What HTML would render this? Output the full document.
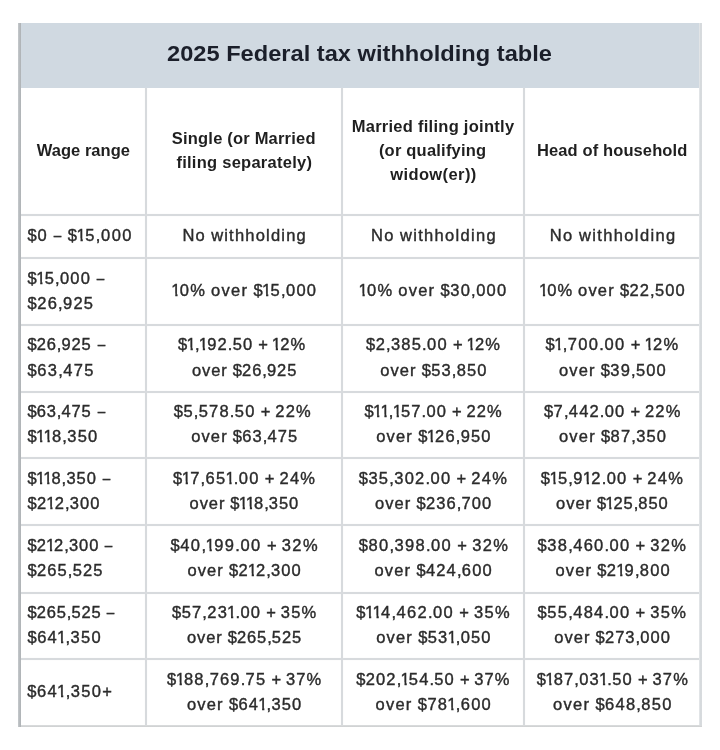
<!DOCTYPE html>
<html><head><meta charset="utf-8"><style>
html,body{margin:0;padding:0;background:#fff;width:720px;height:750px;overflow:hidden;position:relative;font-family:"Liberation Sans",sans-serif;}
.a{position:absolute;}
.t{position:absolute;white-space:pre;line-height:30px;height:30px;}
.d{font-size:16.5px;color:#2b2b2b;-webkit-text-stroke:0.4px #2b2b2b;}
.h{font-size:16.5px;font-weight:bold;color:#1f1f1f;}
.ti{font-size:23px;font-weight:bold;color:#1b1f2a;}
</style></head><body><div style="position:absolute;left:0;top:0;width:720px;height:750px;background:#fff;will-change:transform">
<div class="a" style="left:18px;top:23px;width:683px;height:64.5px;background:#d0d9e1"></div>
<div class="t d" style="left:27.50px;top:220px"><span style="letter-spacing:0.713px">$</span><span style="letter-spacing:1.443px">0</span><span style="letter-spacing:0.823px"> </span><span style="letter-spacing:-0.387px"><span style="display:inline-block;transform:scaleX(0.82)">–</span></span><span style="letter-spacing:0.823px"> </span><span style="letter-spacing:0.713px">$</span><span style="margin-left:-0.985px;letter-spacing:-0.512px;display:inline-block;clip-path:polygon(0.5px 0,6.2px 0,6.2px 100%,4.0px 100%,4.0px 18.4px,0.5px 18.4px)">1</span><span style="letter-spacing:1.443px">5</span><span style="letter-spacing:0.643px">,</span><span style="letter-spacing:1.443px">00</span>0</div>
<div class="t d" style="left:182.50px;top:220px"><span style="letter-spacing:1.200px">No</span><span style="letter-spacing:0.550px"> </span><span style="letter-spacing:1.200px">withholdin</span>g</div>
<div class="t d" style="left:371.00px;top:220px"><span style="letter-spacing:1.308px">No</span><span style="letter-spacing:0.658px"> </span><span style="letter-spacing:1.308px">withholdin</span>g</div>
<div class="t d" style="left:549.80px;top:220px"><span style="letter-spacing:1.369px">No</span><span style="letter-spacing:0.719px"> </span><span style="letter-spacing:1.369px">withholdin</span>g</div>
<div class="t d" style="left:27.60px;top:263px"><span style="letter-spacing:0.440px">$</span><span style="margin-left:-0.985px;letter-spacing:-0.785px;display:inline-block;clip-path:polygon(0.5px 0,6.2px 0,6.2px 100%,4.0px 100%,4.0px 18.4px,0.5px 18.4px)">1</span><span style="letter-spacing:1.170px">5</span><span style="letter-spacing:0.370px">,</span><span style="letter-spacing:1.170px">000</span><span style="letter-spacing:0.550px"> </span><span style="display:inline-block;transform:scaleX(0.82)">–</span></div>
<div class="t d" style="left:27.60px;top:288px"><span style="letter-spacing:0.473px">$</span><span style="letter-spacing:1.203px">26</span><span style="letter-spacing:0.403px">,</span><span style="letter-spacing:1.203px">92</span>5</div>
<div class="t d" style="left:172.30px;top:275px"><span style="margin-left:-0.985px;letter-spacing:-0.718px;display:inline-block;clip-path:polygon(0.5px 0,6.2px 0,6.2px 100%,4.0px 100%,4.0px 18.4px,0.5px 18.4px)">1</span><span style="letter-spacing:1.237px">0</span><span style="letter-spacing:0.917px">%</span><span style="letter-spacing:0.617px"> </span><span style="letter-spacing:1.267px">over</span><span style="letter-spacing:0.617px"> </span><span style="letter-spacing:0.507px">$</span><span style="margin-left:-0.985px;letter-spacing:-0.718px;display:inline-block;clip-path:polygon(0.5px 0,6.2px 0,6.2px 100%,4.0px 100%,4.0px 18.4px,0.5px 18.4px)">1</span><span style="letter-spacing:1.237px">5</span><span style="letter-spacing:0.437px">,</span><span style="letter-spacing:1.237px">00</span>0</div>
<div class="t d" style="left:359.50px;top:275px"><span style="margin-left:-0.985px;letter-spacing:-0.718px;display:inline-block;clip-path:polygon(0.5px 0,6.2px 0,6.2px 100%,4.0px 100%,4.0px 18.4px,0.5px 18.4px)">1</span><span style="letter-spacing:1.237px">0</span><span style="letter-spacing:0.917px">%</span><span style="letter-spacing:0.617px"> </span><span style="letter-spacing:1.267px">over</span><span style="letter-spacing:0.617px"> </span><span style="letter-spacing:0.507px">$</span><span style="letter-spacing:1.237px">30</span><span style="letter-spacing:0.437px">,</span><span style="letter-spacing:1.237px">00</span>0</div>
<div class="t d" style="left:539.90px;top:275px"><span style="margin-left:-0.985px;letter-spacing:-0.838px;display:inline-block;clip-path:polygon(0.5px 0,6.2px 0,6.2px 100%,4.0px 100%,4.0px 18.4px,0.5px 18.4px)">1</span><span style="letter-spacing:1.117px">0</span><span style="letter-spacing:0.797px">%</span><span style="letter-spacing:0.497px"> </span><span style="letter-spacing:1.147px">over</span><span style="letter-spacing:0.497px"> </span><span style="letter-spacing:0.387px">$</span><span style="letter-spacing:1.117px">22</span><span style="letter-spacing:0.317px">,</span><span style="letter-spacing:1.117px">50</span>0</div>
<div class="t d" style="left:27.45px;top:329px"><span style="letter-spacing:0.140px">$</span><span style="letter-spacing:0.870px">26</span><span style="letter-spacing:0.070px">,</span><span style="letter-spacing:0.870px">925</span><span style="letter-spacing:0.250px"> </span><span style="display:inline-block;transform:scaleX(0.82)">–</span></div>
<div class="t d" style="left:27.45px;top:355px"><span style="letter-spacing:0.573px">$</span><span style="letter-spacing:1.303px">63</span><span style="letter-spacing:0.503px">,</span><span style="letter-spacing:1.303px">47</span>5</div>
<div class="t d" style="left:178.00px;top:329px"><span style="letter-spacing:0.383px">$</span><span style="margin-left:-0.985px;letter-spacing:-0.842px;display:inline-block;clip-path:polygon(0.5px 0,6.2px 0,6.2px 100%,4.0px 100%,4.0px 18.4px,0.5px 18.4px)">1</span><span style="letter-spacing:0.313px">,</span><span style="margin-left:-0.985px;letter-spacing:-0.842px;display:inline-block;clip-path:polygon(0.5px 0,6.2px 0,6.2px 100%,4.0px 100%,4.0px 18.4px,0.5px 18.4px)">1</span><span style="letter-spacing:1.113px">92</span><span style="letter-spacing:0.313px">.</span><span style="letter-spacing:1.113px">50</span><span style="letter-spacing:0.493px"> </span><span style="letter-spacing:-0.287px">+</span><span style="letter-spacing:0.493px"> </span><span style="margin-left:-0.985px;letter-spacing:-0.842px;display:inline-block;clip-path:polygon(0.5px 0,6.2px 0,6.2px 100%,4.0px 100%,4.0px 18.4px,0.5px 18.4px)">1</span><span style="letter-spacing:1.113px">2</span>%</div>
<div class="t d" style="left:191.90px;top:355px"><span style="letter-spacing:0.945px">over</span><span style="letter-spacing:0.295px"> </span><span style="letter-spacing:0.185px">$</span><span style="letter-spacing:0.915px">26</span><span style="letter-spacing:0.115px">,</span><span style="letter-spacing:0.915px">92</span>5</div>
<div class="t d" style="left:366.00px;top:329px"><span style="letter-spacing:0.454px">$</span><span style="letter-spacing:1.184px">2</span><span style="letter-spacing:0.384px">,</span><span style="letter-spacing:1.184px">385</span><span style="letter-spacing:0.384px">.</span><span style="letter-spacing:1.184px">00</span><span style="letter-spacing:0.564px"> </span><span style="letter-spacing:-0.216px">+</span><span style="letter-spacing:0.564px"> </span><span style="margin-left:-0.985px;letter-spacing:-0.771px;display:inline-block;clip-path:polygon(0.5px 0,6.2px 0,6.2px 100%,4.0px 100%,4.0px 18.4px,0.5px 18.4px)">1</span><span style="letter-spacing:1.184px">2</span>%</div>
<div class="t d" style="left:380.20px;top:355px"><span style="letter-spacing:1.109px">over</span><span style="letter-spacing:0.459px"> </span><span style="letter-spacing:0.349px">$</span><span style="letter-spacing:1.079px">53</span><span style="letter-spacing:0.279px">,</span><span style="letter-spacing:1.079px">85</span>0</div>
<div class="t d" style="left:545.40px;top:329px"><span style="letter-spacing:0.583px">$</span><span style="margin-left:-0.985px;letter-spacing:-0.642px;display:inline-block;clip-path:polygon(0.5px 0,6.2px 0,6.2px 100%,4.0px 100%,4.0px 18.4px,0.5px 18.4px)">1</span><span style="letter-spacing:0.513px">,</span><span style="letter-spacing:1.313px">700</span><span style="letter-spacing:0.513px">.</span><span style="letter-spacing:1.313px">00</span><span style="letter-spacing:0.693px"> </span><span style="letter-spacing:-0.087px">+</span><span style="letter-spacing:0.693px"> </span><span style="margin-left:-0.985px;letter-spacing:-0.642px;display:inline-block;clip-path:polygon(0.5px 0,6.2px 0,6.2px 100%,4.0px 100%,4.0px 18.4px,0.5px 18.4px)">1</span><span style="letter-spacing:1.313px">2</span>%</div>
<div class="t d" style="left:558.90px;top:355px"><span style="letter-spacing:1.164px">over</span><span style="letter-spacing:0.514px"> </span><span style="letter-spacing:0.404px">$</span><span style="letter-spacing:1.134px">39</span><span style="letter-spacing:0.334px">,</span><span style="letter-spacing:1.134px">50</span>0</div>
<div class="t d" style="left:27.45px;top:396px"><span style="letter-spacing:0.140px">$</span><span style="letter-spacing:0.870px">63</span><span style="letter-spacing:0.070px">,</span><span style="letter-spacing:0.870px">475</span><span style="letter-spacing:0.250px"> </span><span style="display:inline-block;transform:scaleX(0.82)">–</span></div>
<div class="t d" style="left:27.45px;top:421px"><span style="letter-spacing:0.469px">$</span><span style="margin-left:-0.985px;letter-spacing:-0.756px;display:inline-block;clip-path:polygon(0.5px 0,6.2px 0,6.2px 100%,4.0px 100%,4.0px 18.4px,0.5px 18.4px)">1</span><span style="margin-left:-0.985px;letter-spacing:-0.756px;display:inline-block;clip-path:polygon(0.5px 0,6.2px 0,6.2px 100%,4.0px 100%,4.0px 18.4px,0.5px 18.4px)">1</span><span style="letter-spacing:1.199px">8</span><span style="letter-spacing:0.399px">,</span><span style="letter-spacing:1.199px">35</span>0</div>
<div class="t d" style="left:173.75px;top:396px"><span style="letter-spacing:0.454px">$</span><span style="letter-spacing:1.184px">5</span><span style="letter-spacing:0.384px">,</span><span style="letter-spacing:1.184px">578</span><span style="letter-spacing:0.384px">.</span><span style="letter-spacing:1.184px">50</span><span style="letter-spacing:0.564px"> </span><span style="letter-spacing:-0.216px">+</span><span style="letter-spacing:0.564px"> </span><span style="letter-spacing:1.184px">22</span>%</div>
<div class="t d" style="left:191.25px;top:421px"><span style="letter-spacing:1.091px">over</span><span style="letter-spacing:0.441px"> </span><span style="letter-spacing:0.331px">$</span><span style="letter-spacing:1.061px">63</span><span style="letter-spacing:0.261px">,</span><span style="letter-spacing:1.061px">47</span>5</div>
<div class="t d" style="left:364.50px;top:396px"><span style="letter-spacing:0.373px">$</span><span style="margin-left:-0.985px;letter-spacing:-0.852px;display:inline-block;clip-path:polygon(0.5px 0,6.2px 0,6.2px 100%,4.0px 100%,4.0px 18.4px,0.5px 18.4px)">1</span><span style="margin-left:-0.985px;letter-spacing:-0.852px;display:inline-block;clip-path:polygon(0.5px 0,6.2px 0,6.2px 100%,4.0px 100%,4.0px 18.4px,0.5px 18.4px)">1</span><span style="letter-spacing:0.303px">,</span><span style="margin-left:-0.985px;letter-spacing:-0.852px;display:inline-block;clip-path:polygon(0.5px 0,6.2px 0,6.2px 100%,4.0px 100%,4.0px 18.4px,0.5px 18.4px)">1</span><span style="letter-spacing:1.103px">57</span><span style="letter-spacing:0.303px">.</span><span style="letter-spacing:1.103px">00</span><span style="letter-spacing:0.483px"> </span><span style="letter-spacing:-0.297px">+</span><span style="letter-spacing:0.483px"> </span><span style="letter-spacing:1.103px">22</span>%</div>
<div class="t d" style="left:376.25px;top:421px"><span style="letter-spacing:1.167px">over</span><span style="letter-spacing:0.517px"> </span><span style="letter-spacing:0.407px">$</span><span style="margin-left:-0.985px;letter-spacing:-0.818px;display:inline-block;clip-path:polygon(0.5px 0,6.2px 0,6.2px 100%,4.0px 100%,4.0px 18.4px,0.5px 18.4px)">1</span><span style="letter-spacing:1.137px">26</span><span style="letter-spacing:0.337px">,</span><span style="letter-spacing:1.137px">95</span>0</div>
<div class="t d" style="left:544.00px;top:396px"><span style="letter-spacing:0.411px">$</span><span style="letter-spacing:1.141px">7</span><span style="letter-spacing:0.341px">,</span><span style="letter-spacing:1.141px">442</span><span style="letter-spacing:0.341px">.</span><span style="letter-spacing:1.141px">00</span><span style="letter-spacing:0.521px"> </span><span style="letter-spacing:-0.259px">+</span><span style="letter-spacing:0.521px"> </span><span style="letter-spacing:1.141px">22</span>%</div>
<div class="t d" style="left:559.00px;top:421px"><span style="letter-spacing:1.182px">over</span><span style="letter-spacing:0.532px"> </span><span style="letter-spacing:0.422px">$</span><span style="letter-spacing:1.152px">87</span><span style="letter-spacing:0.352px">,</span><span style="letter-spacing:1.152px">35</span>0</div>
<div class="t d" style="left:27.50px;top:463px"><span style="letter-spacing:0.262px">$</span><span style="margin-left:-0.985px;letter-spacing:-0.963px;display:inline-block;clip-path:polygon(0.5px 0,6.2px 0,6.2px 100%,4.0px 100%,4.0px 18.4px,0.5px 18.4px)">1</span><span style="margin-left:-0.985px;letter-spacing:-0.963px;display:inline-block;clip-path:polygon(0.5px 0,6.2px 0,6.2px 100%,4.0px 100%,4.0px 18.4px,0.5px 18.4px)">1</span><span style="letter-spacing:0.992px">8</span><span style="letter-spacing:0.192px">,</span><span style="letter-spacing:0.992px">350</span><span style="letter-spacing:0.372px"> </span><span style="display:inline-block;transform:scaleX(0.82)">–</span></div>
<div class="t d" style="left:27.50px;top:488px"><span style="letter-spacing:0.354px">$</span><span style="letter-spacing:1.084px">2</span><span style="margin-left:-0.985px;letter-spacing:-0.871px;display:inline-block;clip-path:polygon(0.5px 0,6.2px 0,6.2px 100%,4.0px 100%,4.0px 18.4px,0.5px 18.4px)">1</span><span style="letter-spacing:1.084px">2</span><span style="letter-spacing:0.284px">,</span><span style="letter-spacing:1.084px">30</span>0</div>
<div class="t d" style="left:173.00px;top:463px"><span style="letter-spacing:0.493px">$</span><span style="margin-left:-0.985px;letter-spacing:-0.732px;display:inline-block;clip-path:polygon(0.5px 0,6.2px 0,6.2px 100%,4.0px 100%,4.0px 18.4px,0.5px 18.4px)">1</span><span style="letter-spacing:1.223px">7</span><span style="letter-spacing:0.423px">,</span><span style="letter-spacing:1.223px">65</span><span style="margin-left:-0.985px;letter-spacing:-0.732px;display:inline-block;clip-path:polygon(0.5px 0,6.2px 0,6.2px 100%,4.0px 100%,4.0px 18.4px,0.5px 18.4px)">1</span><span style="letter-spacing:0.423px">.</span><span style="letter-spacing:1.223px">00</span><span style="letter-spacing:0.603px"> </span><span style="letter-spacing:-0.177px">+</span><span style="letter-spacing:0.603px"> </span><span style="letter-spacing:1.223px">24</span>%</div>
<div class="t d" style="left:189.50px;top:488px"><span style="letter-spacing:0.950px">over</span><span style="letter-spacing:0.300px"> </span><span style="letter-spacing:0.190px">$</span><span style="margin-left:-0.985px;letter-spacing:-1.035px;display:inline-block;clip-path:polygon(0.5px 0,6.2px 0,6.2px 100%,4.0px 100%,4.0px 18.4px,0.5px 18.4px)">1</span><span style="margin-left:-0.985px;letter-spacing:-1.035px;display:inline-block;clip-path:polygon(0.5px 0,6.2px 0,6.2px 100%,4.0px 100%,4.0px 18.4px,0.5px 18.4px)">1</span><span style="letter-spacing:0.920px">8</span><span style="letter-spacing:0.120px">,</span><span style="letter-spacing:0.920px">35</span>0</div>
<div class="t d" style="left:358.75px;top:463px"><span style="letter-spacing:0.507px">$</span><span style="letter-spacing:1.237px">35</span><span style="letter-spacing:0.437px">,</span><span style="letter-spacing:1.237px">302</span><span style="letter-spacing:0.437px">.</span><span style="letter-spacing:1.237px">00</span><span style="letter-spacing:0.617px"> </span><span style="letter-spacing:-0.163px">+</span><span style="letter-spacing:0.617px"> </span><span style="letter-spacing:1.237px">24</span>%</div>
<div class="t d" style="left:375.00px;top:488px"><span style="letter-spacing:1.083px">over</span><span style="letter-spacing:0.433px"> </span><span style="letter-spacing:0.323px">$</span><span style="letter-spacing:1.053px">236</span><span style="letter-spacing:0.253px">,</span><span style="letter-spacing:1.053px">70</span>0</div>
<div class="t d" style="left:540.80px;top:463px"><span style="letter-spacing:0.493px">$</span><span style="margin-left:-0.985px;letter-spacing:-0.732px;display:inline-block;clip-path:polygon(0.5px 0,6.2px 0,6.2px 100%,4.0px 100%,4.0px 18.4px,0.5px 18.4px)">1</span><span style="letter-spacing:1.223px">5</span><span style="letter-spacing:0.423px">,</span><span style="letter-spacing:1.223px">9</span><span style="margin-left:-0.985px;letter-spacing:-0.732px;display:inline-block;clip-path:polygon(0.5px 0,6.2px 0,6.2px 100%,4.0px 100%,4.0px 18.4px,0.5px 18.4px)">1</span><span style="letter-spacing:1.223px">2</span><span style="letter-spacing:0.423px">.</span><span style="letter-spacing:1.223px">00</span><span style="letter-spacing:0.603px"> </span><span style="letter-spacing:-0.177px">+</span><span style="letter-spacing:0.603px"> </span><span style="letter-spacing:1.223px">24</span>%</div>
<div class="t d" style="left:556.10px;top:488px"><span style="letter-spacing:0.950px">over</span><span style="letter-spacing:0.300px"> </span><span style="letter-spacing:0.190px">$</span><span style="margin-left:-0.985px;letter-spacing:-1.035px;display:inline-block;clip-path:polygon(0.5px 0,6.2px 0,6.2px 100%,4.0px 100%,4.0px 18.4px,0.5px 18.4px)">1</span><span style="letter-spacing:0.920px">25</span><span style="letter-spacing:0.120px">,</span><span style="letter-spacing:0.920px">85</span>0</div>
<div class="t d" style="left:27.45px;top:530px"><span style="letter-spacing:0.196px">$</span><span style="letter-spacing:0.926px">2</span><span style="margin-left:-0.985px;letter-spacing:-1.029px;display:inline-block;clip-path:polygon(0.5px 0,6.2px 0,6.2px 100%,4.0px 100%,4.0px 18.4px,0.5px 18.4px)">1</span><span style="letter-spacing:0.926px">2</span><span style="letter-spacing:0.126px">,</span><span style="letter-spacing:0.926px">300</span><span style="letter-spacing:0.306px"> </span><span style="display:inline-block;transform:scaleX(0.82)">–</span></div>
<div class="t d" style="left:27.45px;top:555px"><span style="letter-spacing:0.354px">$</span><span style="letter-spacing:1.084px">265</span><span style="letter-spacing:0.284px">,</span><span style="letter-spacing:1.084px">52</span>5</div>
<div class="t d" style="left:170.50px;top:530px"><span style="letter-spacing:0.640px">$</span><span style="letter-spacing:1.370px">40</span><span style="letter-spacing:0.570px">,</span><span style="margin-left:-0.985px;letter-spacing:-0.585px;display:inline-block;clip-path:polygon(0.5px 0,6.2px 0,6.2px 100%,4.0px 100%,4.0px 18.4px,0.5px 18.4px)">1</span><span style="letter-spacing:1.370px">99</span><span style="letter-spacing:0.570px">.</span><span style="letter-spacing:1.370px">00</span><span style="letter-spacing:0.750px"> </span><span style="letter-spacing:-0.030px">+</span><span style="letter-spacing:0.750px"> </span><span style="letter-spacing:1.370px">32</span>%</div>
<div class="t d" style="left:187.50px;top:555px"><span style="letter-spacing:1.083px">over</span><span style="letter-spacing:0.433px"> </span><span style="letter-spacing:0.323px">$</span><span style="letter-spacing:1.053px">2</span><span style="margin-left:-0.985px;letter-spacing:-0.902px;display:inline-block;clip-path:polygon(0.5px 0,6.2px 0,6.2px 100%,4.0px 100%,4.0px 18.4px,0.5px 18.4px)">1</span><span style="letter-spacing:1.053px">2</span><span style="letter-spacing:0.253px">,</span><span style="letter-spacing:1.053px">30</span>0</div>
<div class="t d" style="left:358.75px;top:530px"><span style="letter-spacing:0.573px">$</span><span style="letter-spacing:1.303px">80</span><span style="letter-spacing:0.503px">,</span><span style="letter-spacing:1.303px">398</span><span style="letter-spacing:0.503px">.</span><span style="letter-spacing:1.303px">00</span><span style="letter-spacing:0.683px"> </span><span style="letter-spacing:-0.097px">+</span><span style="letter-spacing:0.683px"> </span><span style="letter-spacing:1.303px">32</span>%</div>
<div class="t d" style="left:374.50px;top:555px"><span style="letter-spacing:1.167px">over</span><span style="letter-spacing:0.517px"> </span><span style="letter-spacing:0.407px">$</span><span style="letter-spacing:1.137px">424</span><span style="letter-spacing:0.337px">,</span><span style="letter-spacing:1.137px">60</span>0</div>
<div class="t d" style="left:537.60px;top:530px"><span style="letter-spacing:0.520px">$</span><span style="letter-spacing:1.250px">38</span><span style="letter-spacing:0.450px">,</span><span style="letter-spacing:1.250px">460</span><span style="letter-spacing:0.450px">.</span><span style="letter-spacing:1.250px">00</span><span style="letter-spacing:0.630px"> </span><span style="letter-spacing:-0.150px">+</span><span style="letter-spacing:0.630px"> </span><span style="letter-spacing:1.250px">32</span>%</div>
<div class="t d" style="left:555.40px;top:555px"><span style="letter-spacing:1.167px">over</span><span style="letter-spacing:0.517px"> </span><span style="letter-spacing:0.407px">$</span><span style="letter-spacing:1.137px">2</span><span style="margin-left:-0.985px;letter-spacing:-0.818px;display:inline-block;clip-path:polygon(0.5px 0,6.2px 0,6.2px 100%,4.0px 100%,4.0px 18.4px,0.5px 18.4px)">1</span><span style="letter-spacing:1.137px">9</span><span style="letter-spacing:0.337px">,</span><span style="letter-spacing:1.137px">80</span>0</div>
<div class="t d" style="left:27.45px;top:597px"><span style="letter-spacing:0.107px">$</span><span style="letter-spacing:0.837px">265</span><span style="letter-spacing:0.037px">,</span><span style="letter-spacing:0.837px">525</span><span style="letter-spacing:0.217px"> </span><span style="display:inline-block;transform:scaleX(0.82)">–</span></div>
<div class="t d" style="left:27.45px;top:622px"><span style="letter-spacing:0.526px">$</span><span style="letter-spacing:1.256px">64</span><span style="margin-left:-0.985px;letter-spacing:-0.699px;display:inline-block;clip-path:polygon(0.5px 0,6.2px 0,6.2px 100%,4.0px 100%,4.0px 18.4px,0.5px 18.4px)">1</span><span style="letter-spacing:0.456px">,</span><span style="letter-spacing:1.256px">35</span>0</div>
<div class="t d" style="left:172.00px;top:597px"><span style="letter-spacing:0.440px">$</span><span style="letter-spacing:1.170px">57</span><span style="letter-spacing:0.370px">,</span><span style="letter-spacing:1.170px">23</span><span style="margin-left:-0.985px;letter-spacing:-0.785px;display:inline-block;clip-path:polygon(0.5px 0,6.2px 0,6.2px 100%,4.0px 100%,4.0px 18.4px,0.5px 18.4px)">1</span><span style="letter-spacing:0.370px">.</span><span style="letter-spacing:1.170px">00</span><span style="letter-spacing:0.550px"> </span><span style="letter-spacing:-0.230px">+</span><span style="letter-spacing:0.550px"> </span><span style="letter-spacing:1.170px">35</span>%</div>
<div class="t d" style="left:187.00px;top:622px"><span style="letter-spacing:0.917px">over</span><span style="letter-spacing:0.267px"> </span><span style="letter-spacing:0.157px">$</span><span style="letter-spacing:0.887px">265</span><span style="letter-spacing:0.087px">,</span><span style="letter-spacing:0.887px">52</span>5</div>
<div class="t d" style="left:356.25px;top:597px"><span style="letter-spacing:0.552px">$</span><span style="margin-left:-0.985px;letter-spacing:-0.672px;display:inline-block;clip-path:polygon(0.5px 0,6.2px 0,6.2px 100%,4.0px 100%,4.0px 18.4px,0.5px 18.4px)">1</span><span style="margin-left:-0.985px;letter-spacing:-0.672px;display:inline-block;clip-path:polygon(0.5px 0,6.2px 0,6.2px 100%,4.0px 100%,4.0px 18.4px,0.5px 18.4px)">1</span><span style="letter-spacing:1.282px">4</span><span style="letter-spacing:0.483px">,</span><span style="letter-spacing:1.282px">462</span><span style="letter-spacing:0.483px">.</span><span style="letter-spacing:1.282px">00</span><span style="letter-spacing:0.662px"> </span><span style="letter-spacing:-0.117px">+</span><span style="letter-spacing:0.662px"> </span><span style="letter-spacing:1.282px">35</span>%</div>
<div class="t d" style="left:376.25px;top:622px"><span style="letter-spacing:1.167px">over</span><span style="letter-spacing:0.517px"> </span><span style="letter-spacing:0.407px">$</span><span style="letter-spacing:1.137px">53</span><span style="margin-left:-0.985px;letter-spacing:-0.818px;display:inline-block;clip-path:polygon(0.5px 0,6.2px 0,6.2px 100%,4.0px 100%,4.0px 18.4px,0.5px 18.4px)">1</span><span style="letter-spacing:0.337px">,</span><span style="letter-spacing:1.137px">05</span>0</div>
<div class="t d" style="left:537.60px;top:597px"><span style="letter-spacing:0.520px">$</span><span style="letter-spacing:1.250px">55</span><span style="letter-spacing:0.450px">,</span><span style="letter-spacing:1.250px">484</span><span style="letter-spacing:0.450px">.</span><span style="letter-spacing:1.250px">00</span><span style="letter-spacing:0.630px"> </span><span style="letter-spacing:-0.150px">+</span><span style="letter-spacing:0.630px"> </span><span style="letter-spacing:1.250px">35</span>%</div>
<div class="t d" style="left:554.20px;top:622px"><span style="letter-spacing:1.050px">over</span><span style="letter-spacing:0.400px"> </span><span style="letter-spacing:0.290px">$</span><span style="letter-spacing:1.020px">273</span><span style="letter-spacing:0.220px">,</span><span style="letter-spacing:1.020px">00</span>0</div>
<div class="t d" style="left:27.20px;top:676px"><span style="letter-spacing:0.615px">$</span><span style="letter-spacing:1.345px">64</span><span style="margin-left:-0.985px;letter-spacing:-0.610px;display:inline-block;clip-path:polygon(0.5px 0,6.2px 0,6.2px 100%,4.0px 100%,4.0px 18.4px,0.5px 18.4px)">1</span><span style="letter-spacing:0.545px">,</span><span style="letter-spacing:1.345px">350</span>+</div>
<div class="t d" style="left:167.00px;top:664px"><span style="letter-spacing:0.427px">$</span><span style="margin-left:-0.985px;letter-spacing:-0.797px;display:inline-block;clip-path:polygon(0.5px 0,6.2px 0,6.2px 100%,4.0px 100%,4.0px 18.4px,0.5px 18.4px)">1</span><span style="letter-spacing:1.157px">88</span><span style="letter-spacing:0.358px">,</span><span style="letter-spacing:1.157px">769</span><span style="letter-spacing:0.358px">.</span><span style="letter-spacing:1.157px">75</span><span style="letter-spacing:0.537px"> </span><span style="letter-spacing:-0.242px">+</span><span style="letter-spacing:0.537px"> </span><span style="letter-spacing:1.157px">37</span>%</div>
<div class="t d" style="left:187.00px;top:689px"><span style="letter-spacing:1.167px">over</span><span style="letter-spacing:0.517px"> </span><span style="letter-spacing:0.407px">$</span><span style="letter-spacing:1.137px">64</span><span style="margin-left:-0.985px;letter-spacing:-0.818px;display:inline-block;clip-path:polygon(0.5px 0,6.2px 0,6.2px 100%,4.0px 100%,4.0px 18.4px,0.5px 18.4px)">1</span><span style="letter-spacing:0.337px">,</span><span style="letter-spacing:1.137px">35</span>0</div>
<div class="t d" style="left:356.25px;top:664px"><span style="letter-spacing:0.365px">$</span><span style="letter-spacing:1.095px">202</span><span style="letter-spacing:0.295px">,</span><span style="margin-left:-0.985px;letter-spacing:-0.860px;display:inline-block;clip-path:polygon(0.5px 0,6.2px 0,6.2px 100%,4.0px 100%,4.0px 18.4px,0.5px 18.4px)">1</span><span style="letter-spacing:1.095px">54</span><span style="letter-spacing:0.295px">.</span><span style="letter-spacing:1.095px">50</span><span style="letter-spacing:0.475px"> </span><span style="letter-spacing:-0.305px">+</span><span style="letter-spacing:0.475px"> </span><span style="letter-spacing:1.095px">37</span>%</div>
<div class="t d" style="left:375.50px;top:689px"><span style="letter-spacing:1.250px">over</span><span style="letter-spacing:0.600px"> </span><span style="letter-spacing:0.490px">$</span><span style="letter-spacing:1.220px">78</span><span style="margin-left:-0.985px;letter-spacing:-0.735px;display:inline-block;clip-path:polygon(0.5px 0,6.2px 0,6.2px 100%,4.0px 100%,4.0px 18.4px,0.5px 18.4px)">1</span><span style="letter-spacing:0.420px">,</span><span style="letter-spacing:1.220px">60</span>0</div>
<div class="t d" style="left:536.70px;top:664px"><span style="letter-spacing:0.415px">$</span><span style="margin-left:-0.985px;letter-spacing:-0.810px;display:inline-block;clip-path:polygon(0.5px 0,6.2px 0,6.2px 100%,4.0px 100%,4.0px 18.4px,0.5px 18.4px)">1</span><span style="letter-spacing:1.145px">87</span><span style="letter-spacing:0.345px">,</span><span style="letter-spacing:1.145px">03</span><span style="margin-left:-0.985px;letter-spacing:-0.810px;display:inline-block;clip-path:polygon(0.5px 0,6.2px 0,6.2px 100%,4.0px 100%,4.0px 18.4px,0.5px 18.4px)">1</span><span style="letter-spacing:0.345px">.</span><span style="letter-spacing:1.145px">50</span><span style="letter-spacing:0.525px"> </span><span style="letter-spacing:-0.255px">+</span><span style="letter-spacing:0.525px"> </span><span style="letter-spacing:1.145px">37</span>%</div>
<div class="t d" style="left:553.00px;top:689px"><span style="letter-spacing:1.267px">over</span><span style="letter-spacing:0.617px"> </span><span style="letter-spacing:0.507px">$</span><span style="letter-spacing:1.237px">648</span><span style="letter-spacing:0.437px">,</span><span style="letter-spacing:1.237px">85</span>0</div>
<div class="t h" style="left:36.70px;top:135px"><span style="letter-spacing:0.044px">Wage rang</span>e</div>
<div class="t h" style="left:171.80px;top:123px"><span style="letter-spacing:0.200px">Single (or Marrie</span>d</div>
<div class="t h" style="left:176.40px;top:147px"><span style="letter-spacing:0.259px">filing separately</span>)</div>
<div class="t h" style="left:351.70px;top:111px"><span style="letter-spacing:0.267px">Married filing jointl</span>y</div>
<div class="t h" style="left:378.90px;top:135px"><span style="letter-spacing:0.215px">(or qualifyin</span>g</div>
<div class="t h" style="left:390.20px;top:159px"><span style="letter-spacing:0.400px">widow(er)</span>)</div>
<div class="t h" style="left:537.00px;top:135px"><span style="letter-spacing:0.113px">Head of househol</span>d</div>
<div class="t" style="left:167.20px;top:39px;font-size:21.5px;font-weight:bold;color:#1b1f2a;transform:scaleX(1.0997);transform-origin:0 0">2025 Federal tax withholding table</div>
<div class="a" style="left:21px;top:214px;width:679px;height:2px;background:#d7dadd;box-shadow:0 0 1px #e6e8ea"></div>
<div class="a" style="left:21px;top:257px;width:679px;height:2px;background:#d7dadd;box-shadow:0 0 1px #e6e8ea"></div>
<div class="a" style="left:21px;top:324px;width:679px;height:2px;background:#d7dadd;box-shadow:0 0 1px #e6e8ea"></div>
<div class="a" style="left:21px;top:391px;width:679px;height:2px;background:#d7dadd;box-shadow:0 0 1px #e6e8ea"></div>
<div class="a" style="left:21px;top:457px;width:679px;height:2px;background:#d7dadd;box-shadow:0 0 1px #e6e8ea"></div>
<div class="a" style="left:21px;top:524px;width:679px;height:2px;background:#d7dadd;box-shadow:0 0 1px #e6e8ea"></div>
<div class="a" style="left:21px;top:592px;width:679px;height:2px;background:#d7dadd;box-shadow:0 0 1px #e6e8ea"></div>
<div class="a" style="left:21px;top:658px;width:679px;height:2px;background:#d7dadd;box-shadow:0 0 1px #e6e8ea"></div>
<div class="a" style="left:145px;top:87.5px;width:2px;height:637.5px;background:#d7dadd;box-shadow:0 0 1px #e6e8ea"></div>
<div class="a" style="left:341px;top:87.5px;width:2px;height:637.5px;background:#d7dadd;box-shadow:0 0 1px #e6e8ea"></div>
<div class="a" style="left:523px;top:87.5px;width:2px;height:637.5px;background:#d7dadd;box-shadow:0 0 1px #e6e8ea"></div>
<div class="a" style="left:18px;top:23px;width:3px;height:704px;background:linear-gradient(to right,#c6cacd,#b8bcbf 50%,#aeb2b5)"></div>
<div class="a" style="left:699px;top:23px;width:3px;height:704px;background:linear-gradient(to right,#e6e9eb,#d6dadd 50%,#d8dbde)"></div>
<div class="a" style="left:21px;top:725px;width:681px;height:2px;background:linear-gradient(to bottom,#dcdedf,#cdcfd0)"></div>
</div></body></html>
